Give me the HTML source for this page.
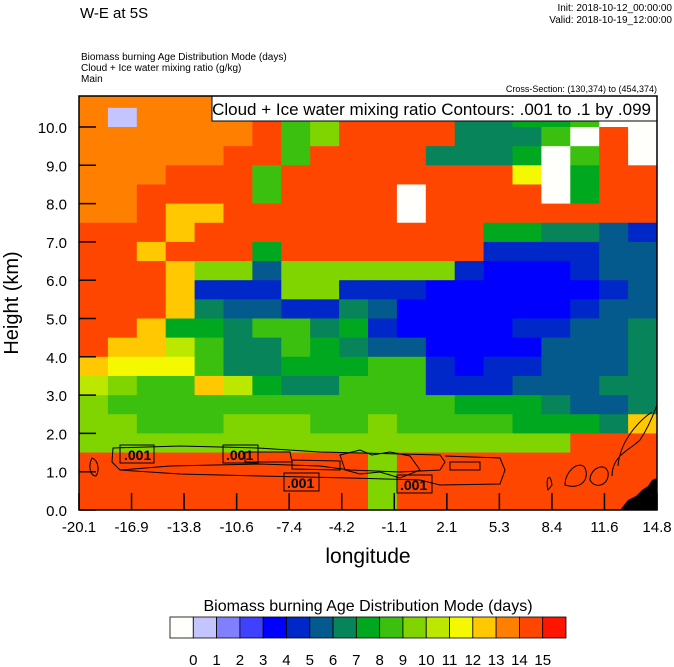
<!DOCTYPE html>
<html><head><meta charset="utf-8"><style>
body{margin:0;background:#fff;}
svg{display:block;font-family:"Liberation Sans",Arial,sans-serif;}
</style></head><body>
<svg id="chart" width="674" height="667" viewBox="0 0 674 667">
<text x="80" y="18" font-size="15">W-E at 5S</text>
<text x="672" y="11" font-size="10" text-anchor="end">Init: 2018-10-12_00:00:00</text>
<text x="672" y="23" font-size="10" text-anchor="end">Valid: 2018-10-19_12:00:00</text>
<text x="81" y="60" font-size="10">Biomass burning Age Distribution Mode   (days)</text>
<text x="81" y="71" font-size="10">Cloud + Ice water mixing ratio   (g/kg)</text>
<text x="81" y="82" font-size="10">Main</text>
<text x="657" y="92" font-size="9" text-anchor="end">Cross-Section: (130,374) to (454,374)</text>
<g id="cells"></g>
<path d="M620,510 L628,500 L636,496 L642,490 L648,486 L652,480 L657,478 L657,510 Z" fill="#000"/>
<g fill="none" stroke="#000" stroke-width="1">
<path d="M92,458 C88,466 90,476 96,476 C100,470 98,460 92,458 Z"/>
<path d="M113,448 L180,446 L258,448 L320,452 L440,455 L445,462 L440,470 L400,472 L350,470 L320,466 L260,464 L170,466 L120,470 L112,462 Z"/>
<path d="M120,470 L180,474 L260,476 L350,478 L420,480 L440,485 L500,484 L505,470 L500,458 L445,456"/>
<path d="M245,452 L290,452 L292,462 L245,462 Z"/>
<path d="M292,460 L340,461 L340,470 L292,469 Z"/>
<path d="M340,455 L360,450 L372,455 L390,452 L410,456 L420,470 L400,478 L380,472 L360,474 L345,470 Z"/>
<path d="M450,462 L480,462 L480,470 L450,470 Z"/>
<path d="M548,490 C545,480 550,470 552,485 Z"/>
<path d="M565,485 C565,470 580,460 585,468 C590,480 580,490 565,485 Z"/>
<path d="M590,480 C590,468 605,462 608,472 C610,485 595,490 590,480 Z"/>
<path d="M612,476 C612,455 630,450 640,440 C650,425 655,410 657,405"/>
<path d="M618,466 C620,440 640,420 652,412"/>
</g>
<g font-size="14" font-weight="bold">
<rect x="120" y="445" width="34" height="18" fill="none" stroke="#000"/><text x="124" y="460">.001</text>
<rect x="223" y="445" width="35" height="18" fill="none" stroke="#000"/><text x="226" y="460">.001</text>
<rect x="284" y="473" width="35" height="18" fill="none" stroke="#000"/><text x="287" y="488">.001</text>
<rect x="397" y="475" width="35" height="18" fill="none" stroke="#000"/><text x="400" y="490">.001</text>
</g>
<rect x="212" y="96" width="445" height="25" fill="#fff" stroke="#000"/>
<text x="651" y="115" font-size="17" text-anchor="end">Cloud + Ice water mixing ratio Contours: .001 to .1 by .099</text>
<rect x="79" y="96" width="578" height="414" fill="none" stroke="#000" stroke-width="1.5"/>
<g id="axes"></g>
<text x="368" y="563" font-size="21" text-anchor="middle">longitude</text>
<text transform="translate(18,303) rotate(-90)" font-size="20" text-anchor="middle">Height (km)</text>
<text x="368" y="611" font-size="16" text-anchor="middle">Biomass burning Age Distribution Mode  (days)</text>
<g id="cbar"></g>
</svg>
<script>
const colors=["#fffffc","#c4c4ff","#8080ff","#4040ff","#0000ff","#0028c8","#045a8c","#08845a","#00a820","#3cc010","#80d400","#bce800","#f4f800","#ffc800","#ff8000","#ff4600","#ff1400"];
const xTickLabels=["-20.1","-16.9","-13.8","-10.6","-7.4","-4.2","-1.1","2.1","5.3","8.4","11.6","14.8"];
const yTickLabels=["0.0","1.0","2.0","3.0","4.0","5.0","6.0","7.0","8.0","9.0","10.0"];
const cbarLabels=["0","1","2","3","4","5","6","7","8","9","10","11","12","13","14","15"];
// rows top (10.5-11 km) to bottom (0-0.5 km); age in days (-1 = none)
const ageRows=[
[13,13,13,13,13,13,14,8,8,10,14,14,7,6,6,7,7,-1,8,-1],
[13,0,13,13,13,13,14,8,9,14,14,14,14,6,6,7,7,8,-1,-1],
[13,13,13,13,13,13,14,8,9,14,14,14,14,6,6,6,8,-1,14,-1],
[13,13,13,13,13,14,14,8,14,14,14,14,6,6,6,7,-1,8,14,-1],
[13,13,13,14,14,14,8,14,14,14,14,14,14,14,14,11,-1,7,14,14],
[13,13,14,14,14,14,8,14,14,14,14,-1,14,14,14,14,-1,7,14,14],
[13,13,14,12,12,14,14,14,14,14,14,-1,14,14,14,14,14,14,14,14],
[14,14,14,12,14,14,14,14,14,14,14,14,14,14,7,7,6,6,5,4],
[14,14,12,14,14,14,7,14,14,14,14,14,14,14,4,4,4,4,5,5],
[14,14,14,12,9,9,5,9,9,9,9,9,9,4,3,3,3,4,5,5],
[14,14,14,12,4,4,4,9,9,4,4,4,3,3,3,3,3,3,4,5],
[14,14,14,12,6,5,5,4,4,6,5,3,3,3,3,3,3,4,5,5],
[14,14,12,7,7,6,8,8,6,7,4,3,3,3,3,4,4,5,5,6],
[14,12,12,10,8,6,6,8,7,6,5,5,3,3,3,3,5,5,5,6],
[12,11,11,11,8,6,6,7,7,7,8,8,4,3,4,4,5,5,5,6],
[10,9,8,8,12,10,7,6,6,8,8,8,4,4,4,5,5,5,6,6],
[9,8,8,8,8,8,8,8,8,8,8,8,8,7,7,7,6,5,5,6],
[9,9,8,8,8,9,9,9,8,8,9,8,8,8,8,7,7,7,6,12],
[9,9,9,9,9,9,9,9,9,9,9,9,9,9,9,9,9,14,14,14],
[14,14,14,14,14,14,14,14,14,14,9,14,14,14,14,14,14,14,14,14],
[14,14,14,14,14,14,14,14,14,14,9,14,14,14,14,14,14,14,14,14],
[14,14,14,14,14,14,14,14,14,14,9,14,14,14,14,14,14,14,14,14]
];
const rowHeightKm=0.5;
const NS="http://www.w3.org/2000/svg";
const X0=79,X1=657,Y0=510,pxPerKm=38.3,TOP=96;
function yScale(h){return Y0-h*pxPerKm;}
function xCol(i,n){return X0+(X1-X0)*i/n;}
function colorFor(v){return v<0?colors[0]:colors[Math.min(16,Math.floor(v)+1)];}
const cells=document.getElementById('cells');
const nRows=ageRows.length;
ageRows.forEach((row,ri)=>{
  const hTop=(nRows-ri)*rowHeightKm, hBot=hTop-rowHeightKm;
  row.forEach((v,ci)=>{
    const r=document.createElementNS(NS,'rect');
    const x=xCol(ci,row.length), w=xCol(ci+1,row.length)-x;
    let yt=Math.max(TOP,yScale(hTop)), yb=yScale(hBot);
    r.setAttribute('x',x);r.setAttribute('y',yt);
    r.setAttribute('width',w+0.5);r.setAttribute('height',Math.max(0,yb-yt+0.5));
    r.setAttribute('fill',colorFor(v));
    
    
    cells.appendChild(r);
  });
});
const axes=document.getElementById('axes');
xTickLabels.forEach((lab,i)=>{
  const x=X0+(X1-X0)*i/(xTickLabels.length-1);
  const l=document.createElementNS(NS,'line');
  l.setAttribute('x1',x);l.setAttribute('x2',x);l.setAttribute('y1',Y0);l.setAttribute('y2',Y0-17);
  l.setAttribute('stroke','#000');l.setAttribute('stroke-width','1.5');
  
  
  axes.appendChild(l);
  const t=document.createElementNS(NS,'text');
  t.setAttribute('x',x);t.setAttribute('y',Y0+22);t.setAttribute('font-size','15');t.setAttribute('text-anchor','middle');
  t.textContent=lab;
  
  
  axes.appendChild(t);
});
yTickLabels.forEach((lab,i)=>{
  const y=yScale(i);
  const l=document.createElementNS(NS,'line');
  l.setAttribute('x1',X0);l.setAttribute('x2',X0+17);l.setAttribute('y1',y);l.setAttribute('y2',y);
  l.setAttribute('stroke','#000');l.setAttribute('stroke-width','1.5');
  
  
  axes.appendChild(l);
  const t=document.createElementNS(NS,'text');
  t.setAttribute('x',X0-12);t.setAttribute('y',y+6);t.setAttribute('font-size','15');t.setAttribute('text-anchor','end');
  t.textContent=lab;
  
  
  axes.appendChild(t);
});
const cbar=document.getElementById('cbar');
const CB0=170,CB1=566,bw=(CB1-CB0)/colors.length;
colors.forEach((c,i)=>{
  const r=document.createElementNS(NS,'rect');
  r.setAttribute('x',CB0+i*bw);r.setAttribute('y',617);r.setAttribute('width',bw);r.setAttribute('height',21);
  r.setAttribute('fill',c);r.setAttribute('stroke','#000');r.setAttribute('stroke-width','0.8');
  
  
  cbar.appendChild(r);
});
cbarLabels.forEach((lab,i)=>{
  const t=document.createElementNS(NS,'text');
  t.setAttribute('x',CB0+(i+1)*bw);t.setAttribute('y',665);t.setAttribute('font-size','15');t.setAttribute('text-anchor','middle');
  t.textContent=lab;
  
  
  cbar.appendChild(t);
});
</script>
</body></html>
